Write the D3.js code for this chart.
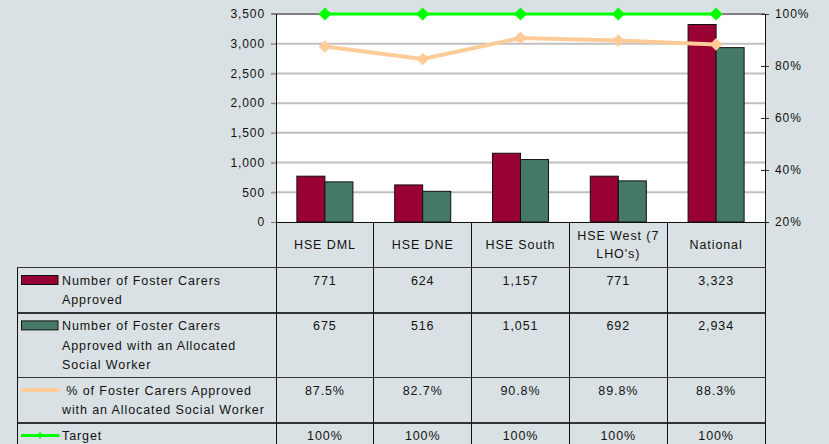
<!DOCTYPE html>
<html>
<head>
<meta charset="utf-8">
<script src="https://cdn.jsdelivr.net/npm/d3@7"></script>
<style>
  body { margin: 0; background: #d9e1e4; }
  svg { display: block; font-family: "Liberation Sans", Arial, sans-serif; }
  text { letter-spacing: 0.9px; fill: #111; white-space: pre; }
</style>
</head>
<body>
<div id="chart"></div>
<script>
// Categories (header lines as they break in the table)
var categories = [["HSE DML"], ["HSE DNE"], ["HSE South"], ["HSE West (7", "LHO's)"], ["National"]];

// Series values
var approved     = [771, 624, 1157, 771, 3323];
var allocated    = [675, 516, 1051, 692, 2934];
var pctAllocated = [87.5, 82.7, 90.8, 89.8, 88.3];
var target       = [100, 100, 100, 100, 100];

// Series names (legend cells of the data table)
var seriesNames = [
  ["Number of Foster Carers", "Approved"],
  ["Number of Foster Carers", "Approved with an Allocated", "Social Worker"],
  [" % of Foster Carers Approved", "with an Allocated Social Worker"],
  ["Target"]
];

// Tick labels
var leftTicks  = [0, 500, 1000, 1500, 2000, 2500, 3000, 3500];
var rightTicks = [20, 40, 60, 80, 100];

var colors = { approved: "#990033", allocated: "#467868", pct: "#ffcc99", target: "#00ff00" };

var W = 829, H = 444;
var plot = { left: 276, right: 765, top: 14, bottom: 222 };

var svg = d3.select("#chart").append("svg")
  .attr("width", W)
  .attr("height", H);

// Scales
var x = d3.scaleBand()
  .domain(d3.range(categories.length))
  .range([plot.left, plot.right]);
var bw = x.bandwidth();
var groupW = bw * 0.573;
var xSub = d3.scaleBand().domain([0, 1]).range([0, groupW]);
var y = d3.scaleLinear().domain([0, 3500]).range([plot.bottom, plot.top]);
var y2 = d3.scaleLinear().domain([20, 100]).range([plot.bottom, plot.top]);

// Plot background
svg.append("rect")
  .attr("x", plot.left).attr("y", plot.top)
  .attr("width", plot.right - plot.left)
  .attr("height", plot.bottom - plot.top)
  .attr("fill", "#fff");

// Gridlines
svg.append("g").selectAll("line")
  .data(leftTicks.filter(function(d) { return d > 0; }))
  .enter().append("line")
    .attr("x1", plot.left - 5).attr("x2", plot.right)
    .attr("y1", function(d) { return y(d); })
    .attr("y2", function(d) { return y(d); })
    .attr("stroke", function(d) { return d == 3500 ? "#808080" : "#c0c0c0"; })
    .attr("stroke-width", 2);

// Left axis
var gLeft = svg.append("g")
  .attr("transform", "translate(" + plot.left + ",0)")
  .call(d3.axisLeft(y).tickValues(leftTicks).tickSize(5).tickSizeOuter(0)
        .tickPadding(6).tickFormat(d3.format(",")));
gLeft.select(".domain").remove();
gLeft.selectAll(".tick line").attr("stroke", "#808080");
gLeft.selectAll("text").attr("font-size", 12).attr("fill", "#111");

// Right axis
var gRight = svg.append("g")
  .attr("transform", "translate(" + plot.right + ",0)")
  .call(d3.axisRight(y2).tickValues(rightTicks).tickSize(4).tickSizeOuter(0)
        .tickPadding(6).tickFormat(function(d) { return d + "%"; }));
gRight.select(".domain").remove();
gRight.selectAll(".tick line").attr("x1", -4).attr("stroke", "#333");
gRight.selectAll("text").attr("font-size", 12).attr("fill", "#111");

// Bars
[approved, allocated].forEach(function(series, s) {
  svg.append("g").selectAll("rect")
    .data(series)
    .enter().append("rect")
      .attr("x", function(d, i) { return x(i) + (bw - groupW) / 2 + xSub(s); })
      .attr("y", function(d) { return y(d); })
      .attr("width", xSub.bandwidth())
      .attr("height", function(d) { return plot.bottom - y(d); })
      .attr("fill", s == 0 ? colors.approved : colors.allocated)
      .attr("stroke", "#111")
      .attr("stroke-width", 1);
});

// Lines on secondary axis
var diamond = function(size) { return d3.symbol().type(d3.symbolSquare).size(size); };
var line = d3.line()
  .x(function(d, i) { return x(i) + bw / 2; })
  .y(function(d) { return y2(d); });

[[pctAllocated, colors.pct, 4, 80], [target, colors.target, 3, 85]].forEach(function(cfg) {
  var g = svg.append("g");
  g.append("path")
    .datum(cfg[0])
    .attr("d", line)
    .attr("fill", "none")
    .attr("stroke", cfg[1])
    .attr("stroke-width", cfg[2]);
  g.selectAll("path.pt")
    .data(cfg[0])
    .enter().append("path")
      .attr("class", "pt")
      .attr("d", diamond(cfg[3]))
      .attr("transform", function(d, i) {
        return "translate(" + (x(i) + bw / 2) + "," + y2(d) + ") rotate(45)";
      })
      .attr("fill", cfg[1]);
});

// Data table
var table = svg.append("g");
var lineH = 19.2;
var tableLeft = 17;

// Header (category labels)
categories.forEach(function(lines, i) {
  var base = (plot.bottom + 267.5) / 2 + 4.3 - (lines.length - 1) * 18.3 / 2;
  lines.forEach(function(t, j) {
    table.append("text")
      .attr("x", x(i) + bw / 2)
      .attr("y", base + j * 18.3)
      .attr("text-anchor", "middle")
      .attr("font-size", 12.5)
      .text(t);
  });
});

var rows = [
  { vals: approved, fmt: d3.format(",") },
  { vals: allocated, fmt: d3.format(",") },
  { vals: pctAllocated, fmt: function(d) { return d3.format(".1f")(d) + "%"; } },
  { vals: target, fmt: function(d) { return d + "%"; } }
];

var rowY = 267.5;
rows.forEach(function(row, r) {
  var h = seriesNames[r].length * lineH + 7;
  row.y0 = rowY;

  // legend text
  seriesNames[r].forEach(function(t, j) {
    table.append("text")
      .attr("x", 62)
      .attr("y", rowY + 17.5 + j * lineH)
      .attr("font-size", 12.5)
      .text(t);
  });

  // values
  table.selectAll(null)
    .data(row.vals)
    .enter().append("text")
      .attr("x", function(d, i) { return x(i) + bw / 2; })
      .attr("y", rowY + 17.5)
      .attr("text-anchor", "middle")
      .attr("font-size", 12.5)
      .text(row.fmt);

  // legend key
  var ky = rowY + 12.5;
  if (r < 2) {
    table.append("rect")
      .attr("x", 21.5).attr("y", ky - 4.5)
      .attr("width", 36.5).attr("height", 9)
      .attr("fill", r == 0 ? colors.approved : colors.allocated)
      .attr("stroke", "#111").attr("stroke-width", 1);
  } else {
    var c = r == 2 ? colors.pct : colors.target;
    table.append("line")
      .attr("x1", 21).attr("x2", 59.5)
      .attr("y1", ky).attr("y2", ky)
      .attr("stroke", c).attr("stroke-width", r == 2 ? 4 : 3);
    table.append("path")
      .attr("d", diamond(22))
      .attr("transform", "translate(40," + ky + ") rotate(45)")
      .attr("fill", c);
  }

  rowY += h;
});

// Table grid
var grid = svg.append("g").attr("shape-rendering", "crispEdges");
rows.forEach(function(row) {
  grid.append("line")
    .attr("x1", tableLeft).attr("x2", plot.right)
    .attr("y1", row.y0).attr("y2", row.y0)
    .attr("stroke", "#333").attr("stroke-width", 1.5);
});
grid.append("line")
  .attr("x1", tableLeft).attr("x2", tableLeft)
  .attr("y1", rows[0].y0).attr("y2", H)
  .attr("stroke", "#111");
d3.range(categories.length + 1).forEach(function(i) {
  var xx = i < categories.length ? x(i) : plot.right;
  grid.append("line")
    .attr("x1", xx).attr("x2", xx)
    .attr("y1", (i == 0 || i == categories.length) ? plot.top : plot.bottom)
    .attr("y2", H)
    .attr("stroke", "#111");
});
// category axis line
grid.append("line")
  .attr("x1", plot.left).attr("x2", plot.right + 4)
  .attr("y1", plot.bottom).attr("y2", plot.bottom)
  .attr("stroke", "#111");
</script>
</body>
</html>
